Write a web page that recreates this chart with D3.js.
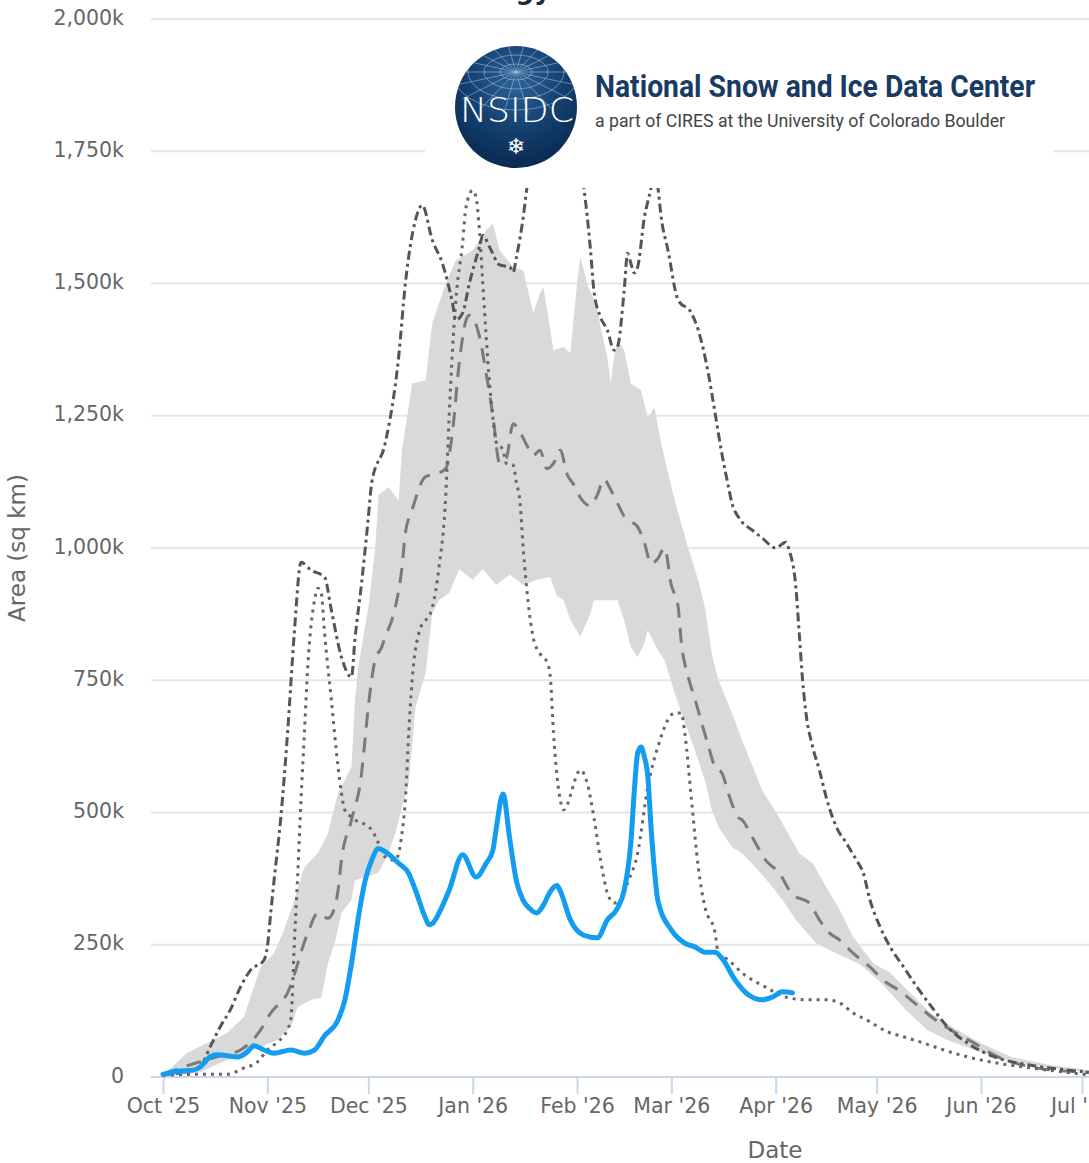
<!DOCTYPE html>
<html>
<head>
<meta charset="utf-8">
<script src="https://cdn.jsdelivr.net/npm/d3@7"></script>
<style>
  body { margin: 0; background: #fff; }
  svg { display: block; }
</style>
</head>
<body>
<div id="chart"></div>
<script>
// values in thousands of sq km
var monthTicks = ["2025-10-01","2025-11-01","2025-12-01","2026-01-01","2026-02-01","2026-03-01","2026-04-01","2026-05-01","2026-06-01","2026-07-01"];
var areaTicks = [0, 250, 500, 750, 1000, 1250, 1500, 1750, 2000];

var currentSeason = [
  ["2025-10-01",5],["2025-10-05",11],["2025-10-10",13],["2025-10-12",19],["2025-10-15",38],["2025-10-17",42],["2025-10-23",38],["2025-10-26",47],["2025-10-28",59],["2025-10-31",51],
  ["2025-11-03",45],["2025-11-08",51],["2025-11-12",45],["2025-11-15",51],["2025-11-18",78],["2025-11-22",108],["2025-11-24",145],["2025-11-26",215],["2025-11-28",300],["2025-11-30",370],
  ["2025-12-02",410],["2025-12-04",432],["2025-12-06",426],["2025-12-10",404],["2025-12-13",385],["2025-12-15",353],["2025-12-18",300],["2025-12-19",288],["2025-12-20",290],["2025-12-22",310],["2025-12-25",353],["2025-12-29",420],
  ["2026-01-02",378],["2026-01-05",404],["2026-01-07",429],["2026-01-08",470],["2026-01-10",535],["2026-01-12",450],["2026-01-14",370],["2026-01-16",334],["2026-01-18",318],["2026-01-20",310],["2026-01-22",325],["2026-01-24",350],["2026-01-26",362],["2026-01-27",352],["2026-01-30",297],
  ["2026-02-03",268],["2026-02-07",263],["2026-02-10",297],["2026-02-13",319],["2026-02-15",353],["2026-02-17",445],["2026-02-18",540],["2026-02-19",612],["2026-02-20",624],["2026-02-21",605],["2026-02-22",570],["2026-02-23",470],["2026-02-24",390],["2026-02-25",334],
  ["2026-03-01",278],["2026-03-05",253],["2026-03-08",246],["2026-03-11",236],["2026-03-14",236],["2026-03-16",225],["2026-03-20",183],["2026-03-24",155],["2026-03-28",146],["2026-03-31",151],
  ["2026-04-03",161],["2026-04-06",159]
];

var median = [
  ["2025-10-01",5],["2025-10-09",23],["2025-10-17",38],["2025-10-24",51],["2025-10-30",89],["2025-11-02",121],["2025-11-07",159],["2025-11-13",272],["2025-11-16",310],["2025-11-19",300],["2025-11-21",321],["2025-11-22",353],["2025-11-23",410],["2025-11-26",486],["2025-11-29",575],["2025-11-30",637],
  ["2025-12-01",700],["2025-12-03",788],["2025-12-05",813],["2025-12-06",832],["2025-12-08",864],["2025-12-09",888],["2025-12-11",964],["2025-12-12",1028],["2025-12-14",1072],["2025-12-18",1135],["2025-12-21",1140],["2025-12-24",1150],["2025-12-26",1220],["2025-12-28",1350],["2025-12-30",1430],["2025-12-31",1440],
  ["2026-01-03",1400],["2026-01-05",1330],["2026-01-07",1250],["2026-01-09",1160],["2026-01-11",1170],["2026-01-13",1235],["2026-01-15",1220],["2026-01-17",1195],["2026-01-19",1175],["2026-01-21",1185],["2026-01-23",1150],["2026-01-25",1160],["2026-01-27",1185],["2026-01-29",1140],["2026-01-31",1120],
  ["2026-02-02",1095],["2026-02-05",1080],["2026-02-07",1100],["2026-02-09",1130],["2026-02-11",1110],["2026-02-13",1085],["2026-02-15",1060],["2026-02-17",1050],["2026-02-19",1040],["2026-02-21",1010],["2026-02-23",970],["2026-02-25",980],["2026-02-27",1000],
  ["2026-03-01",930],["2026-03-03",890],["2026-03-04",820],["2026-03-06",757],["2026-03-08",715],["2026-03-10",670],["2026-03-12",626],["2026-03-14",586],["2026-03-16",575],["2026-03-18",535],["2026-03-21",490],["2026-03-22",486],["2026-03-25",454],["2026-03-29",410],
  ["2026-04-02",386],["2026-04-06",345],["2026-04-11",329],["2026-04-14",297],["2026-04-17",272],["2026-04-20",259],["2026-04-24",234],["2026-04-29",208],
  ["2026-05-03",183],["2026-05-08",162],["2026-05-13",136],["2026-05-18",110],["2026-05-24",85],["2026-05-30",64],["2026-06-06",38],["2026-06-16",19],["2026-07-01",9],["2026-07-03",8]
];

var rangeHigh = [
  ["2025-10-01",3],["2025-10-08",45],["2025-10-14",64],["2025-10-20",83],["2025-10-25",113],["2025-10-29",189],["2025-10-30",208],["2025-11-03",234],["2025-11-06",278],["2025-11-09",335],["2025-11-12",397],["2025-11-16",423],["2025-11-19",461],["2025-11-22",537],["2025-11-26",586],["2025-11-27",713],["2025-11-28",775],
  ["2025-12-01",888],["2025-12-03",996],["2025-12-04",1100],["2025-12-07",1115],["2025-12-10",1090],["2025-12-11",1185],["2025-12-14",1311],["2025-12-18",1317],["2025-12-20",1425],["2025-12-24",1500],["2025-12-27",1544],
  ["2026-01-01",1563],["2026-01-05",1600],["2026-01-07",1614],["2026-01-09",1563],["2026-01-13",1531],["2026-01-16",1525],["2026-01-19",1444],["2026-01-21",1482],["2026-01-22",1493],["2026-01-23",1455],["2026-01-25",1374],["2026-01-28",1380],["2026-01-30",1368],
  ["2026-02-01",1500],["2026-02-02",1550],["2026-02-04",1500],["2026-02-07",1455],["2026-02-08",1417],["2026-02-10",1361],["2026-02-11",1311],["2026-02-12",1361],["2026-02-13",1393],["2026-02-15",1374],["2026-02-17",1311],["2026-02-20",1298],["2026-02-22",1247],["2026-02-24",1266],["2026-02-26",1198],["2026-02-28",1142],
  ["2026-03-02",1090],["2026-03-06",1000],["2026-03-09",939],["2026-03-11",888],["2026-03-13",801],["2026-03-15",750],["2026-03-19",688],["2026-03-22",637],["2026-03-28",542],
  ["2026-04-02",491],["2026-04-08",423],["2026-04-12",404],["2026-04-16",359],["2026-04-20",316],["2026-04-24",265],["2026-04-30",215],
  ["2026-05-05",197],["2026-05-11",159],["2026-05-17",121],["2026-05-25",89],["2026-06-01",64],["2026-06-10",38],["2026-06-21",23],["2026-07-03",13]
];

var rangeLow = [
  ["2025-10-01",0],["2025-10-12",9],["2025-10-22",38],["2025-10-30",57],["2025-11-04",70],["2025-11-08",95],["2025-11-10",132],["2025-11-14",146],["2025-11-17",150],["2025-11-19",215],["2025-11-21",253],["2025-11-23",310],["2025-11-26",335],["2025-11-27",372],
  ["2025-12-04",386],["2025-12-07",423],["2025-12-09",461],["2025-12-11",510],["2025-12-13",556],["2025-12-15",699],["2025-12-18",763],["2025-12-20",877],["2025-12-22",901],["2025-12-25",915],["2025-12-28",960],
  ["2026-01-01",940],["2026-01-04",960],["2026-01-08",930],["2026-01-12",950],["2026-01-16",930],["2026-01-20",940],["2026-01-24",945],["2026-01-26",910],["2026-01-28",901],["2026-01-30",864],
  ["2026-02-02",832],["2026-02-05",877],["2026-02-06",901],["2026-02-13",901],["2026-02-15",864],["2026-02-17",813],["2026-02-19",794],["2026-02-21",820],["2026-02-22",845],["2026-02-25",807],["2026-02-27",788],
  ["2026-03-02",726],["2026-03-04",688],["2026-03-08",618],["2026-03-11",561],["2026-03-13",505],["2026-03-15",473],["2026-03-19",435],["2026-03-22",423],["2026-03-26",397],["2026-03-30",367],
  ["2026-04-03",335],["2026-04-07",297],["2026-04-13",253],["2026-04-19",234],["2026-04-26",213],
  ["2026-05-02",180],["2026-05-10",125],["2026-05-16",89],["2026-05-22",70],["2026-05-30",51],["2026-06-08",32],["2026-06-20",19],["2026-07-03",9]
];

var seasonDashDot = [
  ["2025-10-01",5],["2025-10-07",9],["2025-10-12",19],["2025-10-15",57],["2025-10-18",95],["2025-10-21",127],["2025-10-24",170],["2025-10-27",202],["2025-10-31",221],
  ["2025-11-01",246],["2025-11-02",310],["2025-11-03",372],["2025-11-05",491],["2025-11-07",650],["2025-11-09",839],["2025-11-11",973],["2025-11-14",958],["2025-11-18",945],["2025-11-20",883],["2025-11-23",794],["2025-11-26",756],["2025-11-27",826],["2025-11-29",934],
  ["2025-12-01",1058],["2025-12-02",1123],["2025-12-06",1198],["2025-12-10",1361],["2025-12-12",1500],["2025-12-15",1620],["2025-12-17",1648],["2025-12-20",1582],["2025-12-23",1538],["2025-12-26",1463],["2025-12-27",1431],["2025-12-29",1444],["2025-12-31",1500],
  ["2026-01-03",1569],["2026-01-04",1591],["2026-01-06",1569],["2026-01-09",1535],["2026-01-12",1531],["2026-01-13",1521],["2026-01-14",1550],["2026-01-16",1625],["2026-01-17",1676],["2026-01-20",1800],["2026-01-24",1880],["2026-01-28",1850],
  ["2026-02-01",1760],["2026-02-03",1682],["2026-02-05",1563],["2026-02-06",1487],["2026-02-08",1436],["2026-02-10",1412],["2026-02-12",1374],["2026-02-13",1380],["2026-02-15",1487],["2026-02-16",1557],["2026-02-17",1538],["2026-02-18",1520],["2026-02-19",1531],["2026-02-21",1625],["2026-02-23",1682],["2026-02-24",1720],["2026-02-25",1682],["2026-02-26",1625],["2026-02-28",1563],
  ["2026-03-03",1469],["2026-03-07",1444],["2026-03-09",1412],["2026-03-12",1330],["2026-03-14",1255],["2026-03-16",1179],["2026-03-18",1115],["2026-03-19",1085],["2026-03-21",1058],["2026-03-25",1034],["2026-03-28",1019],
  ["2026-04-01",1000],["2026-04-04",1011],["2026-04-05",996],["2026-04-07",926],["2026-04-08",839],["2026-04-09",750],["2026-04-10",688],["2026-04-12",624],["2026-04-14",580],["2026-04-16",529],["2026-04-19",473],["2026-04-22",442],["2026-04-25",410],["2026-04-27",386],["2026-04-29",335],
  ["2026-05-02",284],["2026-05-05",246],["2026-05-09",208],["2026-05-13",170],["2026-05-18",127],["2026-05-22",95],["2026-05-28",64],["2026-06-05",38],["2026-06-15",23],["2026-06-27",13],["2026-07-03",9]
];

var seasonDotted = [
  ["2025-10-01",3],["2025-10-10",5],["2025-10-20",5],["2025-10-25",17],["2025-10-29",28],["2025-11-01",51],["2025-11-04",66],["2025-11-07",90],["2025-11-08",110],["2025-11-09",250],["2025-11-10",380],["2025-11-11",524],["2025-11-12",650],["2025-11-13",775],["2025-11-15",901],["2025-11-16",924],["2025-11-17",915],["2025-11-18",839],["2025-11-20",713],["2025-11-22",586],["2025-11-23",537],["2025-11-24",505],["2025-11-26",491],
  ["2025-12-02",467],["2025-12-04",442],["2025-12-06",416],["2025-12-09",410],["2025-12-10",423],["2025-12-11",461],["2025-12-12",524],["2025-12-13",650],["2025-12-14",750],["2025-12-16",839],["2025-12-20",888],["2025-12-22",964],["2025-12-24",1100],["2025-12-25",1247],["2025-12-26",1374],["2025-12-27",1469],["2025-12-29",1576],["2025-12-30",1644],
  ["2026-01-01",1676],["2026-01-02",1663],["2026-01-03",1600],["2026-01-04",1500],["2026-01-05",1400],["2026-01-06",1311],["2026-01-07",1247],["2026-01-08",1200],["2026-01-10",1185],["2026-01-11",1160],["2026-01-13",1157],["2026-01-14",1123],["2026-01-15",1090],["2026-01-16",1000],["2026-01-19",830],["2026-01-21",800],["2026-01-23",785],["2026-01-24",760],["2026-01-25",650],["2026-01-27",524],["2026-01-28",505],
  ["2026-02-02",580],["2026-02-04",556],["2026-02-06",491],["2026-02-08",410],["2026-02-10",348],["2026-02-12",329],["2026-02-14",335],["2026-02-16",367],["2026-02-19",423],["2026-02-22",548],["2026-02-25",624],
  ["2026-03-02",688],["2026-03-04",688],["2026-03-05",650],["2026-03-07",524],["2026-03-09",397],["2026-03-11",321],["2026-03-14",272],["2026-03-15",234],["2026-03-18",221],["2026-03-22",197],["2026-03-29",170],
  ["2026-04-04",151],["2026-04-10",146],["2026-04-16",146],["2026-04-20",140],["2026-04-24",121],["2026-04-28",108],
  ["2026-05-04",86],["2026-05-09",76],["2026-05-15",64],["2026-05-21",51],["2026-05-28",38],["2026-06-06",26],["2026-06-16",17],["2026-06-26",9],["2026-07-03",4]
];

var width = 1089,
    height = 1163;
var plotLeft = 151, plotRight = 1089;

var svg = d3.select("#chart")
  .append("svg")
    .attr("width", width)
    .attr("height", height)
    .style("font-family", "'DejaVu Sans', Verdana, sans-serif");

var parseTime = d3.timeParse("%Y-%m-%d");

var x = d3.scaleTime()
    .domain([parseTime("2025-10-01"), parseTime("2026-07-01")])
    .range([163, 1082]);
var y = d3.scaleLinear()
    .domain([0, 2000])
    .range([1077, 19]);

function pts(series) {
  return series.map(function(d) { return { date: parseTime(d[0]), value: d[1] }; });
}

// clip to plot
svg.append("defs").append("clipPath").attr("id", "plot-clip")
  .append("rect").attr("x", plotLeft).attr("y", 0).attr("width", plotRight - plotLeft).attr("height", 1077);

// grid lines
svg.append("g").attr("class", "grid")
  .selectAll("line")
  .data(areaTicks.filter(function(v) { return v > 0; }))
  .enter().append("line")
    .attr("x1", plotLeft).attr("x2", plotRight)
    .attr("y1", function(d) { return y(d); })
    .attr("y2", function(d) { return y(d); })
    .attr("stroke", "#e6e6e6")
    .attr("stroke-width", 2);

// y axis labels
var yAxis = svg.append("g")
    .attr("transform", "translate(124,0)")
    .call(d3.axisLeft(y).tickValues(areaTicks).tickSize(0).tickPadding(0)
      .tickFormat(function(v) { return v === 0 ? "0" : d3.format(",")(v) + "k"; }));
yAxis.select(".domain").remove();
yAxis.selectAll("text")
    .attr("dy", "0.25em")
    .attr("fill", "#666")
    .style("font-size", "20.5px")
    .style("font-family", "'DejaVu Sans', Verdana, sans-serif");

// x axis
svg.append("line")
    .attr("x1", plotLeft).attr("x2", plotRight)
    .attr("y1", 1077).attr("y2", 1077)
    .attr("stroke", "#ccd6eb").attr("stroke-width", 2);
var xAxis = svg.append("g")
    .attr("transform", "translate(0,1077)")
    .call(d3.axisBottom(x).tickValues(monthTicks.map(parseTime))
      .tickFormat(d3.timeFormat("%b '%y")).tickSize(17).tickPadding(4));
xAxis.select(".domain").remove();
xAxis.selectAll(".tick line").attr("stroke", "#ccd6eb").attr("stroke-width", 2);
xAxis.selectAll("text")
    .attr("fill", "#666")
    .style("font-size", "20.5px")
    .style("font-family", "'DejaVu Sans', Verdana, sans-serif");

// axis titles
svg.append("text")
    .attr("transform", "translate(25,548) rotate(-90)")
    .attr("text-anchor", "middle")
    .attr("fill", "#666")
    .style("font-size", "23px")
    .text("Area (sq km)");
svg.append("text")
    .attr("x", 775).attr("y", 1158)
    .attr("text-anchor", "middle")
    .attr("fill", "#666")
    .style("font-size", "23px")
    .text("Date");

var plot = svg.append("g").attr("clip-path", "url(#plot-clip)");

// range band
var edge = d3.line()
    .x(function(d) { return x(d.date); })
    .y(function(d) { return y(d.value); });
var bandPts = pts(rangeHigh).concat(pts(rangeLow).reverse());
plot.append("path")
    .attr("d", edge(bandPts) + "Z")
    .attr("fill", "#d9d9d9")
    .attr("stroke", "none");

var line = d3.line()
    .curve(d3.curveMonotoneX)
    .x(function(d) { return x(d.date); })
    .y(function(d) { return y(d.value); });

plot.append("path")
    .datum(pts(median))
    .attr("d", line)
    .attr("fill", "none")
    .attr("stroke", "#7a7a7a")
    .attr("stroke-width", 3)
    .attr("stroke-dasharray", "15,10");

plot.append("path")
    .datum(pts(seasonDotted))
    .attr("d", line)
    .attr("fill", "none")
    .attr("stroke", "#666")
    .attr("stroke-width", 3)
    .attr("stroke-dasharray", "3,5");

plot.append("path")
    .datum(pts(seasonDashDot))
    .attr("d", line)
    .attr("fill", "none")
    .attr("stroke", "#555")
    .attr("stroke-width", 3)
    .attr("stroke-dasharray", "9,4,3,4");

plot.append("path")
    .datum(pts(currentSeason))
    .attr("d", line)
    .attr("fill", "none")
    .attr("stroke", "#129df0")
    .attr("stroke-width", 5)
    .attr("stroke-linejoin", "round")
    .attr("stroke-linecap", "round");

// title (cropped at top edge, only descenders show)
svg.append("text")
    .attr("x", 551).attr("y", -1)
    .attr("text-anchor", "end")
    .attr("fill", "#1f2a3a")
    .style("font-size", "26px")
    .style("font-weight", "bold")
    .text("Sea Ice Area Climatology");

// logo box
var logo = svg.append("g");
logo.append("rect")
    .attr("x", 425).attr("y", 23).attr("width", 628).attr("height", 165)
    .attr("fill", "#fff");

var defs = svg.select("defs");
var grad = defs.append("radialGradient").attr("id", "globe")
    .attr("cx", "50%").attr("cy", "30%").attr("r", "70%");
grad.append("stop").attr("offset", "0%").attr("stop-color", "#2f6296");
grad.append("stop").attr("offset", "55%").attr("stop-color", "#14406f");
grad.append("stop").attr("offset", "100%").attr("stop-color", "#0a2a52");
defs.append("clipPath").attr("id", "globe-clip")
  .append("circle").attr("cx", 516).attr("cy", 107).attr("r", 61);

logo.append("circle")
    .attr("cx", 516).attr("cy", 107).attr("r", 61)
    .attr("fill", "url(#globe)");

var grid = logo.append("g").attr("clip-path", "url(#globe-clip)")
    .attr("fill", "none").attr("stroke", "#a9c4e6").attr("stroke-opacity", 0.55).attr("stroke-width", 1);
[[16, 8], [32, 17], [48, 27], [64, 38]].forEach(function(r) {
  grid.append("ellipse").attr("cx", 516).attr("cy", 72).attr("rx", r[0]).attr("ry", r[1]);
});
d3.range(0, 360, 20).forEach(function(a) {
  var t = a * Math.PI / 180;
  grid.append("line")
      .attr("x1", 516).attr("y1", 72)
      .attr("x2", 516 + 70 * Math.cos(t)).attr("y2", 72 + 42 * Math.sin(t));
});

logo.append("text")
    .attr("x", 517).attr("y", 122)
    .attr("text-anchor", "middle")
    .attr("fill", "#fff")
    .attr("textLength", 114)
    .attr("lengthAdjust", "spacingAndGlyphs")
    .style("font-family", "'DejaVu Sans', sans-serif")
    .style("font-weight", "200")
    .style("font-size", "34px")
    .text("NSIDC");
logo.append("text")
    .attr("x", 516).attr("y", 154)
    .attr("text-anchor", "middle")
    .attr("fill", "#fff")
    .style("font-size", "22px")
    .text("\u2744");

logo.append("text")
    .attr("x", 595).attr("y", 97)
    .attr("fill", "#183a63")
    .attr("textLength", 440)
    .attr("lengthAdjust", "spacingAndGlyphs")
    .style("font-family", "Roboto, sans-serif")
    .style("font-weight", "bold")
    .style("font-size", "31px")
    .text("National Snow and Ice Data Center");
logo.append("text")
    .attr("x", 595).attr("y", 127)
    .attr("fill", "#444")
    .attr("textLength", 410)
    .attr("lengthAdjust", "spacingAndGlyphs")
    .style("font-family", "Roboto, sans-serif")
    .style("font-size", "18px")
    .text("a part of CIRES at the University of Colorado Boulder");
</script>
</body>
</html>
